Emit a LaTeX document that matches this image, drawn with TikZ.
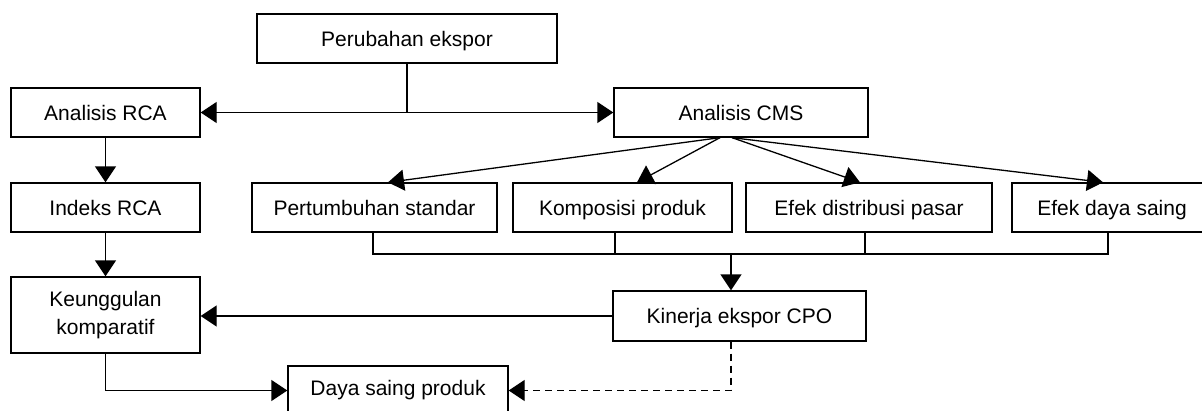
\documentclass[tikz,border=0pt]{standalone}
\usepackage{fontspec}
\setmainfont{Liberation Sans}
\usetikzlibrary{arrows.meta,calc}
\begin{document}
\begin{tikzpicture}[x=1pt,y=-1pt,
  box/.style={draw, line width=1.3pt, minimum height=49pt, inner sep=0pt,
    font=\fontsize{21}{28}\selectfont, align=center,
    text height=15pt, text depth=0pt},
  twoline/.style={draw, line width=1.3pt, inner sep=0pt,
    font=\fontsize{21}{28}\selectfont, align=center},
  link/.style={line width=1.3pt},
  tip/.style={link, -{Triangle[length=16pt,width=21pt]}},
  bothtips/.style={link, {Triangle[length=16pt,width=21pt]}-{Triangle[length=16pt,width=21pt]}}]
\clip (0,0) rectangle (1202,410);
\useasboundingbox (0,0) rectangle (1202,410);

% boxes
\node[box, minimum width=300pt] (pe)  at (407,38.5)   {Perubahan ekspor};
\node[box, minimum width=189pt] (rca) at (105.5,112.5) {Analisis RCA};
\node[box, minimum width=254pt] (cms) at (741,112.5)   {Analisis CMS};
\node[box, minimum width=189pt] (idx) at (105.5,207.5) {Indeks RCA};
\node[box, minimum width=245pt] (pst) at (374.5,207.5) {Pertumbuhan standar};
\node[box, minimum width=219pt] (kp)  at (622.5,207.5) {Komposisi produk};
\node[box, minimum width=246pt] (edp) at (869,207.5)   {Efek distribusi pasar};
\node[box, minimum width=200pt] (eds) at (1112,207.5)  {Efek daya saing};
\node[twoline, minimum width=189pt, minimum height=76pt] (keu) at (105.5,315) {Keunggulan\\komparatif};
\node[box, minimum width=253pt, minimum height=50pt] (kin) at (739.5,316) {Kinerja ekspor CPO};
\node[box, minimum width=220pt, text depth=5pt] (dsp) at (398,390.5) {Daya saing produk};

% export change splits to both analyses
\draw[link] (pe.south) -- (pe.south |- rca.east);
\draw[bothtips] (rca.east) -- (cms.west);

% RCA column
\draw[tip] (rca.south) -- (idx.north);
\draw[tip] (idx.south) -- (keu.north);

% CMS components
\coordinate (cmsL) at ($(cms.south)+(-21,0)$);
\coordinate (cmsR) at ($(cms.south)+(-9,0)$);
\draw[tip] (cmsL) -- ($(pst.north)+(13.5,0)$);
\draw[tip] (cmsL) -- ($(kp.north)+(14.5,0)$);
\draw[tip] (cmsR) -- ($(edp.north)+(-9,0)$);
\draw[tip] (cmsR) -- ($(eds.north)+(-9,0)$);

% collecting bus under the components
\coordinate (busL) at (373,254);
\coordinate (busR) at (1108,254);
\coordinate (busM) at (731,254);
\draw[link] (pst.south -| busL) -- (busL) -- (busR) -- (eds.south -| busR);
\draw[link] ($(kp.south)+(-7.5,0)$) -- ++(0,22);
\draw[link] ($(edp.south)+(-4,0)$) -- ++(0,22);
\draw[tip] (busM) -- (busM |- kin.north);

% performance to comparative advantage and competitiveness
\draw[tip] (kin.west) -- (kin.west -| keu.east);
\draw[tip] (keu.south) |- (dsp.west);
\draw[tip, dash pattern=on 7pt off 5pt] (busM |- kin.south) |- (dsp.east);
\end{tikzpicture}
\end{document}
